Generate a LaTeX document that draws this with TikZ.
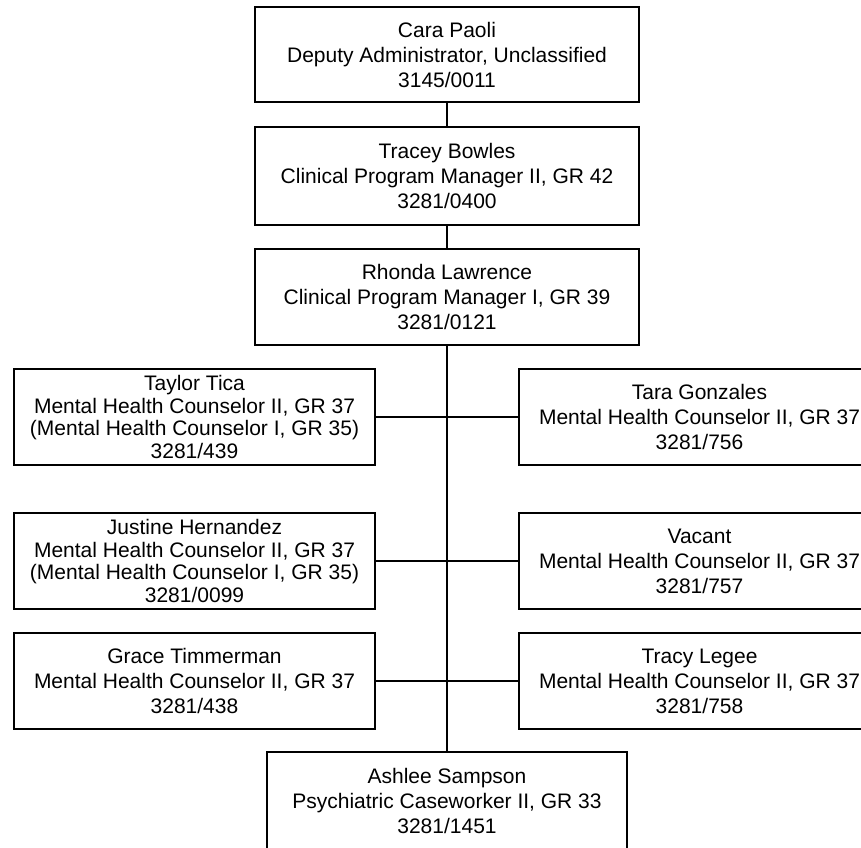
\documentclass[tikz,border=0pt]{standalone}
\usepackage{fontspec}
\setmainfont{Liberation Sans}
\begin{document}
\begin{tikzpicture}[x=1pt,y=-1pt,
  box/.style={draw=black, line width=2.5pt, fill=white, rectangle, inner sep=0pt,
    align=center, font=\fontsize{21}{25}\selectfont},
  topbox/.style={box, minimum width=384pt, minimum height=95pt},
  sidebox/.style={box, minimum width=361pt, minimum height=96pt},
  fourline/.style={font=\fontsize{21}{22.5}\selectfont},
  link/.style={draw=black, line width=2.5pt}]
\useasboundingbox (0,0) rectangle (861,847);
\clip (0,0) rectangle (861,847);
\node[topbox] (cara) at (447,54.5) {Cara Paoli\\Deputy Administrator, Unclassified\\3145/0011};
\node[topbox, minimum height=98pt] (tracey) at (447,176) {Tracey Bowles\\Clinical Program Manager II, GR 42\\3281/0400};
\node[topbox, minimum height=96pt] (rhonda) at (447,297) {Rhonda Lawrence\\Clinical Program Manager I, GR 39\\3281/0121};
\node[sidebox, fourline] (taylor) at (194.5,417) {Taylor Tica\\Mental Health Counselor II, GR 37\\(Mental Health Counselor I, GR 35)\\3281/439};
\node[sidebox] (tara) at (699.5,417) {Tara Gonzales\\Mental Health Counselor II, GR 37\\3281/756};
\node[sidebox, fourline] (justine) at (194.5,561) {Justine Hernandez\\Mental Health Counselor II, GR 37\\(Mental Health Counselor I, GR 35)\\3281/0099};
\node[sidebox] (vacant) at (699.5,561) {Vacant\\Mental Health Counselor II, GR 37\\3281/757};
\node[sidebox] (grace) at (194.5,681) {Grace Timmerman\\Mental Health Counselor II, GR 37\\3281/438};
\node[sidebox] (tracy) at (699.5,681) {Tracy Legee\\Mental Health Counselor II, GR 37\\3281/758};
\node[sidebox, minimum width=360pt, minimum height=98pt] (ashlee) at (447,801) {Ashlee Sampson\\Psychiatric Caseworker II, GR 33\\3281/1451};
\draw[link] (cara.south) -- (tracey.north);
\draw[link] (tracey.south) -- (rhonda.north);
\draw[link] (rhonda.south) -- (ashlee.north);
\draw[link] (taylor.east) -- (tara.west);
\draw[link] (justine.east) -- (vacant.west);
\draw[link] (grace.east) -- (tracy.west);
\end{tikzpicture}
\end{document}
